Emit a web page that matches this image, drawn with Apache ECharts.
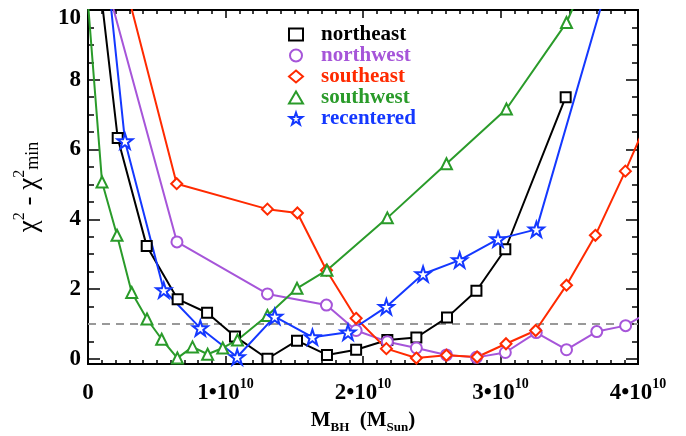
<!DOCTYPE html>
<html>
<head>
<meta charset="utf-8">
<script src="https://cdn.jsdelivr.net/npm/echarts@6.0.0/dist/echarts.min.js"></script>
<style>
  html, body { margin: 0; padding: 0; background: #fff; }
  #main { width: 686px; height: 436px; }
</style>
</head>
<body>
<div id="main"></div>
<script>
// black hole mass in units of 1e10 M_sun, chi^2 - chi^2_min
const northeastM = [0.0, 0.216, 0.427, 0.652, 0.866, 1.069, 1.305, 1.52, 1.738, 1.95, 2.177, 2.388, 2.611, 2.825, 3.035, 3.474];
const northeastChi = [13.7, 6.33, 3.23, 1.71, 1.32, 0.64, 0.0, 0.52, 0.11, 0.26, 0.54, 0.61, 1.18, 1.95, 3.14, 7.5];

const northwestM = [0.0, 0.647, 1.305, 1.734, 1.95, 2.177, 2.388, 2.607, 2.825, 3.035, 3.26, 3.48, 3.70, 3.91, 4.12];
const northwestChi = [12.7, 3.35, 1.86, 1.54, 0.81, 0.49, 0.31, 0.11, 0.04, 0.18, 0.75, 0.26, 0.78, 0.95, 1.43];

const southeastM = [0.215, 0.645, 1.305, 1.523, 1.734, 1.95, 2.17, 2.388, 2.607, 2.83, 3.04, 3.256, 3.48, 3.69, 3.908, 4.12];
const southeastChi = [11.6, 5.02, 4.29, 4.18, 2.54, 1.16, 0.29, 0.02, 0.1, 0.05, 0.43, 0.81, 2.11, 3.54, 5.38, 7.3];

const southwestM = [0.0, 0.102, 0.211, 0.318, 0.429, 0.536, 0.65, 0.76, 0.87, 0.98, 1.087, 1.305, 1.52, 1.738, 2.177, 2.607, 3.043, 3.48, 3.70];
const southwestChi = [10.2, 5.07, 3.54, 1.9, 1.14, 0.56, 0.02, 0.34, 0.13, 0.31, 0.54, 1.24, 2.02, 2.54, 4.04, 5.59, 7.16, 9.64, 11.6];

const recenteredM = [0.0, 0.269, 0.551, 0.817, 1.085, 1.358, 1.632, 1.891, 2.17, 2.437, 2.703, 2.982, 3.261, 3.82];
const recenteredChi = [16.4, 6.24, 1.97, 0.88, 0.05, 1.21, 0.62, 0.76, 1.49, 2.43, 2.83, 3.43, 3.71, 11.3];

const threshold = 1;
const yTicks = [0, 2, 4, 6, 8, 10];
const yMinorTicks = [];
for (let v = 0.5; v < 10; v += 0.5) {
  if (v % 2 !== 0) yMinorTicks.push(v);
}

const serif = "'Liberation Serif', 'DejaVu Serif', serif";
const star = "path://M50,2 L61.5,36 L97,36 L68.5,57.5 L79.5,92 L50,71 L20.5,92 L31.5,57.5 L3,36 L38.5,36 Z";

const groups = [
  { name: "northeast", m: northeastM, chi: northeastChi, color: "#000000", symbol: "rect", size: 10 },
  { name: "northwest", m: northwestM, chi: northwestChi, color: "#a655d9", symbol: "circle", size: 11 },
  { name: "southeast", m: southeastM, chi: southeastChi, color: "#ff2a00", symbol: "diamond", size: 11 },
  { name: "southwest", m: southwestM, chi: southwestChi, color: "#2a9b2a", symbol: "triangle", size: 11 },
  { name: "recentered", m: recenteredM, chi: recenteredChi, color: "#1438ff", symbol: star, size: 15 },
];

let chartDom = document.getElementById("main");
let myChart = echarts.init(chartDom);

let series = groups.map(function (g) {
  return {
    name: g.name,
    type: "line",
    xAxisIndex: 0,
    yAxisIndex: 0,
    data: g.m.map(function (m, i) { return [m, g.chi[i]]; }),
    symbol: g.symbol,
    symbolSize: g.size,
    showAllSymbol: true,
    clip: true,
    itemStyle: { color: "#fff", borderColor: g.color, borderWidth: 2 },
    lineStyle: { color: g.color, width: 2 },
    emphasis: { disabled: true },
    z: 3,
  };
});
series[0].markLine = {
  silent: true,
  symbol: "none",
  label: { show: false },
  lineStyle: { type: [8, 6], color: "#999", width: 2 },
  data: [{ yAxis: threshold }],
  z: 1,
};

let xLabelRich = {
  b: { fontFamily: serif, fontWeight: "bold", fontSize: 23, color: "#000", lineHeight: 28, verticalAlign: "bottom" },
  s: { fontFamily: serif, fontWeight: "bold", fontSize: 14, color: "#000", lineHeight: 14, verticalAlign: "top" },
};

function xAxisOf(pos, labels) {
  return {
    type: "value",
    position: pos,
    min: 0,
    max: 4,
    interval: 1,
    splitLine: { show: false },
    axisLine: { show: true, onZero: false, lineStyle: { color: "#000", width: 2 } },
    axisTick: { show: true, inside: true, length: 8, lineStyle: { color: "#000", width: 1.5 } },
    minorTick: { show: true, splitNumber: 10, length: 4, lineStyle: { color: "#000", width: 1.5 } },
    axisLabel: {
      show: labels,
      margin: 13,
      formatter: function (v) {
        return v === 0 ? "{b|0}" : "{b|" + v + "\u202210}{s|10}";
      },
      rich: xLabelRich,
    },
  };
}

function yAxisOf(pos, ticks, len, labels) {
  return {
    type: "value",
    position: pos,
    min: -0.15,
    max: 10,
    splitLine: { show: false },
    axisLine: { show: true, onZero: false, lineStyle: { color: "#000", width: 2 } },
    axisTick: { show: true, inside: true, length: len, customValues: ticks, lineStyle: { color: "#000", width: 1.5 } },
    axisLabel: {
      show: labels,
      customValues: yTicks,
      margin: 7,
      fontFamily: serif,
      fontWeight: "bold",
      fontSize: 23,
      color: "#000",
      formatter: function (v) {
        return v === 10 ? "{t|10}" : String(v);
      },
      rich: {
        t: { fontFamily: serif, fontWeight: "bold", fontSize: 23, color: "#000", padding: [17, 0, 0, 0] },
      },
    },
  };
}

let xBottom = xAxisOf("bottom", true);
xBottom.name = "{m|M}{u|BH}{m|  (M}{u|Sun}{m|)}";
xBottom.nameLocation = "middle";
xBottom.nameGap = 45;
xBottom.nameTextStyle = {
  rich: {
    m: { fontFamily: serif, fontWeight: "bold", fontSize: 21, color: "#000", lineHeight: 24, verticalAlign: "top" },
    u: { fontFamily: serif, fontWeight: "bold", fontSize: 13, color: "#000", lineHeight: 14, verticalAlign: "bottom" },
  },
};

let yLeft = yAxisOf("left", yTicks, 12, true);
yLeft.name = "{c|\u03c7}{p|2}{c| - \u03c7}{p|2}{q|min}";
yLeft.nameLocation = "middle";
yLeft.nameGap = 46;
yLeft.nameTextStyle = {
  rich: {
    c: { fontFamily: serif, fontSize: 27, color: "#000", lineHeight: 30, verticalAlign: "bottom" },
    p: { fontFamily: serif, fontSize: 16, color: "#000", lineHeight: 16, verticalAlign: "top" },
    q: { fontFamily: serif, fontSize: 18, color: "#000", lineHeight: 18, verticalAlign: "bottom" },
  },
};

let option = {
  animation: false,
  backgroundColor: "#fff",
  grid: { left: 88, right: 48, top: 10, bottom: 72, outerBoundsMode: "none" },
  legend: {
    orient: "vertical",
    left: 288,
    top: 24,
    padding: 0,
    itemWidth: 14,
    itemHeight: 12,
    itemGap: 0,
    selectedMode: false,
    textStyle: { fontFamily: serif, fontWeight: "bold", fontSize: 21, lineHeight: 20, padding: [0, 0, 0, 13] },
    data: groups.map(function (g) {
      return {
        name: g.name,
        icon: g.symbol,
        itemStyle: { color: "#fff", borderColor: g.color, borderWidth: 2 },
        textStyle: { color: g.color, fontFamily: serif, fontWeight: "bold", fontSize: 21, lineHeight: 20, padding: [0, 0, 0, 13] },
      };
    }),
  },
  xAxis: [xBottom, xAxisOf("top", false)],
  yAxis: [
    yLeft,
    yAxisOf("left", yMinorTicks, 6, false),
    yAxisOf("right", yTicks, 12, false),
    yAxisOf("right", yMinorTicks, 6, false),
  ],
  series: series,
};

option && myChart.setOption(option);
</script>
</body>
</html>
